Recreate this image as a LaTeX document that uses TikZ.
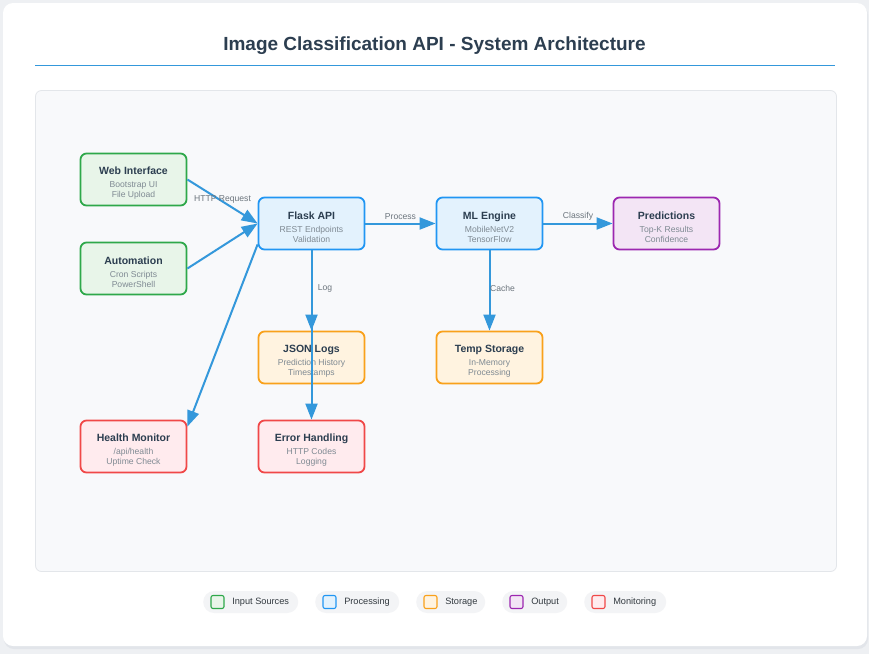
\documentclass[tikz,border=0pt]{standalone}
\usepackage{fontspec}
\setmainfont{Liberation Sans}
\usetikzlibrary{arrows.meta, positioning}

\definecolor{pageBg}{HTML}{EEF0F3}
\definecolor{cardShadow}{HTML}{E2E5EA}
\definecolor{panelFill}{HTML}{F8F9FB}
\definecolor{panelDraw}{HTML}{E3E6EA}
\definecolor{titleCol}{HTML}{2C3E50}
\definecolor{subCol}{HTML}{7F8A93}
\definecolor{labelGrey}{HTML}{6C757D}
\definecolor{legendText}{HTML}{333A40}
\definecolor{pillFill}{HTML}{F3F4F6}
\definecolor{flowBlue}{HTML}{3498DB}
\definecolor{inputDraw}{HTML}{2EA84A}
\definecolor{inputFill}{HTML}{E8F5E9}
\definecolor{procDraw}{HTML}{2196F3}
\definecolor{procFill}{HTML}{E3F2FD}
\definecolor{storeDraw}{HTML}{F9A11B}
\definecolor{storeFill}{HTML}{FFF3E0}
\definecolor{outDraw}{HTML}{9C27B0}
\definecolor{outFill}{HTML}{F3E5F5}
\definecolor{monDraw}{HTML}{F04848}
\definecolor{monFill}{HTML}{FFEBEE}

\newcommand{\titlefont}{\fontsize{10.5}{12}\selectfont\bfseries}
\newcommand{\subfont}{\fontsize{8.6}{9}\selectfont}
\newcommand{\lblfont}{\fontsize{8.6}{10}\selectfont}
\newcommand{\compText}[3]{{\titlefont\color{titleCol}\rule{0pt}{15pt}#1}\\[4pt]{\color{subCol}#2}\\[1pt]{\color{subCol}#3}} % title, two lines

\tikzset{
	comp/.style={draw, rounded corners=6pt, line width=1.8pt, minimum width=106pt, minimum height=52pt, align=center, inner sep=0pt, font=\subfont},
	cinput/.style={draw=inputDraw, fill=inputFill},
	cproc/.style={draw=procDraw, fill=procFill},
	cstore/.style={draw=storeDraw, fill=storeFill},
	coutput/.style={draw=outDraw, fill=outFill},
	cmonitor/.style={draw=monDraw, fill=monFill},
	flow/.style={-{Triangle[length=16pt, width=12pt]}, draw=flowBlue, line width=2pt},
	lbl/.style={font=\lblfont, text=labelGrey, inner sep=0pt},
	legpill/.style={fill=pillFill, rounded corners=11pt, minimum height=22pt, inner sep=0pt},
	legsq/.style={draw, line width=1.1pt, rounded corners=2pt, minimum size=13pt, inner sep=0pt},
	legtext/.style={font=\fontsize{9.2}{11}\selectfont, text=legendText, inner sep=0pt},
}

\begin{document}
\begin{tikzpicture}[x=1pt, y=-1pt]
	\useasboundingbox (0,0) rectangle (869,654);
		% page, card and panel
		\fill[pageBg] (0,0) rectangle (869,654);
		\fill[cardShadow, rounded corners=10pt] (4,5) rectangle (868,649);
		\fill[white, rounded corners=10pt] (3,3) rectangle (867,646);
		\node[font=\fontsize{19}{22}\selectfont\bfseries, text=titleCol] (title) at (434.5,45.5) {Image Classification API - System Architecture};
		\draw[flowBlue, line width=0.8pt] (35,65.5) -- (835,65.5);
		\draw[fill=panelFill, draw=panelDraw, line width=0.8pt, rounded corners=6pt] (35.5,90.5) rectangle (836.5,571.5);
		% components
		\node[comp, cinput]   (web)    at (133.5,179.5) {\compText{Web Interface}{Bootstrap UI}{File Upload}};
		\node[comp, cinput]   (auto)   at (133.5,268.5) {\compText{Automation}{Cron Scripts}{PowerShell}};
		\node[comp, cproc]    (flask)  at (311.5,223.5) {\compText{Flask API}{REST Endpoints}{Validation}};
		\node[comp, cproc]    (ml)     at (489.5,223.5) {\compText{ML Engine}{MobileNetV2}{TensorFlow}};
		\node[comp, coutput]  (pred)   at (666.5,223.5) {\compText{Predictions}{Top-K Results}{Confidence}};
		\node[comp, cstore]   (logs)   at (311.5,357.5) {\compText{JSON Logs}{Prediction History}{Timestamps}};
		\node[comp, cstore]   (tmp)    at (489.5,357.5) {\compText{Temp Storage}{In-Memory}{Processing}};
		\node[comp, cmonitor] (health) at (133.5,446.5) {\compText{Health Monitor}{/api/health}{Uptime Check}};
		\node[comp, cmonitor] (err)    at (311.5,446.5) {\compText{Error Handling}{HTTP Codes}{Logging}};
		% connections
		\draw[flow] (web.east) -- node[lbl, yshift=2pt] {HTTP Request} (flask.west);
		\draw[flow] (auto.east) -- (flask.west);
		\draw[flow] ([yshift=6pt]flask.south west) -- ([yshift=-7pt]health.north east);
		\draw[flow] (flask.east) -- node[lbl, yshift=7pt] {Process} (ml.west);
		\draw[flow] (ml.east) -- node[lbl, yshift=7pt] {Classify} (pred.west);
		\draw[flow] (flask.south) -- node[lbl, xshift=13.5pt, yshift=2.5pt] {Log} (logs.north);
		\draw[flow] (flask.south) -- (err.north);
		\draw[flow] (ml.south) -- node[lbl, xshift=13pt, yshift=2.5pt] {Cache} (tmp.north);
		% legend
		\foreach \nm/\px/\pw/\cs/\txt in {inp/203/95/cinput/Input Sources, prc/315/84/cproc/Processing, sto/416/69/cstore/Storage, out/502/65/coutput/Output, mon/584/82/cmonitor/Monitoring} {
			\node[legpill, minimum width=\pw pt, anchor=west] (pill\nm) at (\px,602) {};
			\node[legsq, \cs] (sq\nm) at (\px+14.5,602) {};
			\node[legtext, right=7.5pt of sq\nm, yshift=-0.5pt] (lg\nm) {\txt};
		};
\end{tikzpicture}
\end{document}
